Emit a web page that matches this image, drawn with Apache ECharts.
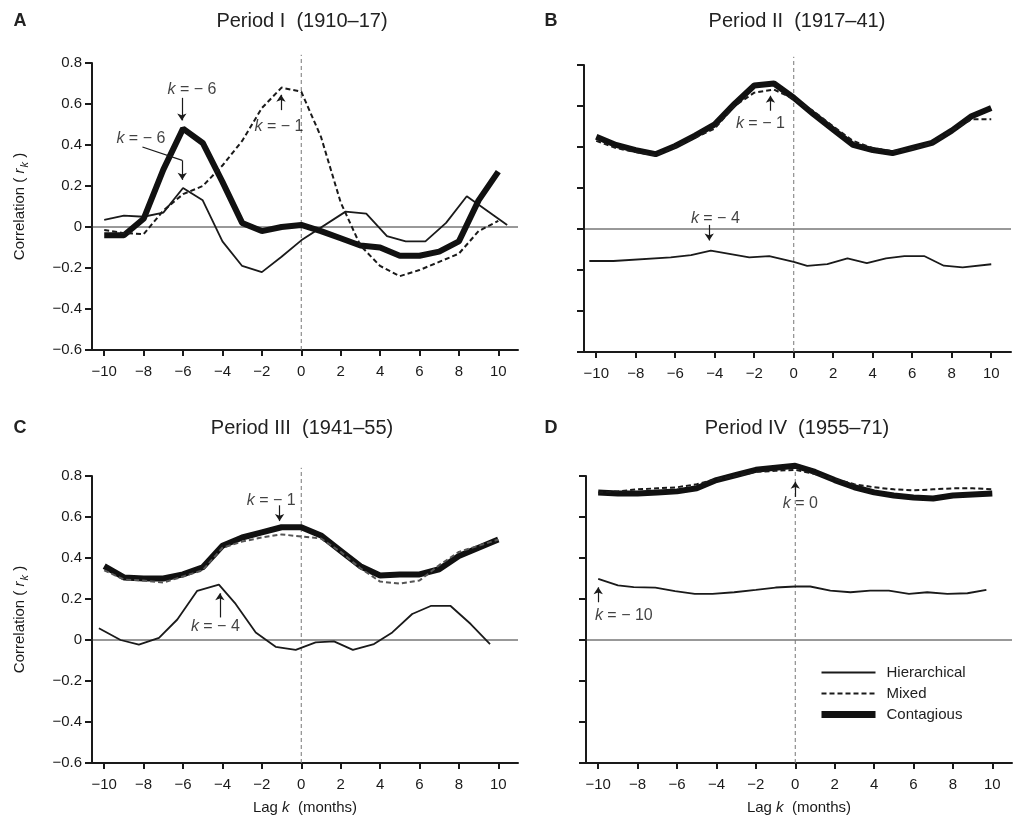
<!doctype html>
<html>
<head>
<meta charset="UTF-8">
<title>Lag correlations</title>
<script src="https://cdn.jsdelivr.net/npm/echarts@6/dist/echarts.min.js"></script>
<style>
	html, body { margin: 0; padding: 0; background: #fff; }
	#chart { width: 1018px; height: 823px; }
</style>
</head>
<body>
<div id="chart"></div>
<script>
	// axis ticks
	var xTicks = [-10, -8, -6, -4, -2, 0, 2, 4, 6, 8, 10];
	var yTicks = [-0.6, -0.4, -0.2, 0, 0.2, 0.4, 0.6, 0.8];
	var lags = [-10, -9, -8, -7, -6, -5, -4, -3, -2, -1, 0, 1, 2, 3, 4, 5, 6, 7, 8, 9, 10];

	// Period I
	var lagsHierA = [-10, -9, -8, -7, -6, -5, -4, -3, -2, -1, 0, 2.25, 3.3, 4.35, 5.3, 6.3, 7.35, 8.4, 10.45];
	var hierA = [0.035, 0.055, 0.05, 0.07, 0.19, 0.13, -0.07, -0.19, -0.22, -0.145, -0.065, 0.075, 0.065, -0.045, -0.07, -0.07, 0.02, 0.15, 0.01];
	var mixedA = [-0.015, -0.03, -0.035, 0.08, 0.16, 0.2, 0.3, 0.42, 0.58, 0.68, 0.66, 0.44, 0.12, -0.09, -0.19, -0.24, -0.21, -0.17, -0.13, -0.02, 0.03];
	var contA = [-0.04, -0.04, 0.04, 0.28, 0.48, 0.41, 0.22, 0.02, -0.02, 0.0, 0.01, -0.02, -0.055, -0.09, -0.1, -0.14, -0.14, -0.12, -0.07, 0.13, 0.27];
	var noteTextA = ['k = − 6', 'k = − 6', 'k = − 1'];
	var notePosA = [[-5.55, 0.67], [-8.14, 0.43], [-1.13, 0.49]];
	var arrowsA = [[[-6.06, 0.63], [-6.06, 0.52]], [[-6.04, 0.325], [-6.04, 0.23]], [[-1.03, 0.57], [-1.03, 0.645]]];
	var leadersA = [[[-8.06, 0.39], [-6.04, 0.325]]];

	// Period II
	var lagsHierB = [-10.35, -9.13, -6.23, -5.2, -4.2, -2.25, -1.24, 0, 0.68, 1.7, 2.72, 3.7, 4.67, 5.6, 6.6, 7.6, 8.55, 10];
	var hierB = [-0.156, -0.156, -0.138, -0.127, -0.106, -0.138, -0.132, -0.16, -0.18, -0.171, -0.143, -0.167, -0.143, -0.132, -0.132, -0.179, -0.187, -0.172];
	var mixedB = [0.43, 0.395, 0.375, 0.36, 0.4, 0.445, 0.49, 0.6, 0.665, 0.68, 0.635, 0.575, 0.5, 0.43, 0.395, 0.38, 0.39, 0.42, 0.48, 0.535, 0.535];
	var contB = [0.45, 0.41, 0.385, 0.365, 0.405, 0.455, 0.51, 0.61, 0.7, 0.71, 0.64, 0.56, 0.485, 0.41, 0.385, 0.37, 0.395, 0.42, 0.48, 0.55, 0.59];
	var noteTextB = ['k = − 4', 'k = − 1'];
	var notePosB = [[-3.97, 0.052], [-1.69, 0.515]];
	var arrowsB = [[[-4.28, 0.02], [-4.28, -0.056]], [[-1.18, 0.577], [-1.18, 0.65]]];

	// Period III
	var lagsHierC = [-10.27, -9.17, -8.24, -7.22, -6.29, -5.28, -4.18, -3.33, -2.31, -1.3, -0.28, 0.73, 1.66, 2.62, 3.69, 4.62, 5.63, 6.57, 7.58, 8.6, 9.58];
	var hierC = [0.057, 0.0, -0.023, 0.01, 0.1, 0.24, 0.27, 0.176, 0.037, -0.033, -0.048, -0.012, -0.007, -0.048, -0.02, 0.037, 0.127, 0.166, 0.166, 0.078, -0.02];
	var mixedC = [0.34, 0.295, 0.29, 0.28, 0.31, 0.34, 0.45, 0.48, 0.5, 0.515, 0.505, 0.495, 0.43, 0.35, 0.285, 0.275, 0.29, 0.365, 0.43, 0.46, 0.49];
	var contC = [0.36, 0.305, 0.3, 0.3, 0.32, 0.355, 0.46, 0.5, 0.525, 0.55, 0.55, 0.51, 0.435, 0.36, 0.315, 0.32, 0.32, 0.345, 0.41, 0.45, 0.49];
	var noteTextC = ['k = − 1', 'k = − 4'];
	var notePosC = [[-1.52, 0.68], [-4.36, 0.065]];
	var arrowsC = [[[-1.1, 0.657], [-1.1, 0.58]], [[-4.13, 0.11], [-4.13, 0.228]]];

	// Period IV
	var lagsHierD = [-10, -9, -8.2, -7.1, -6.1, -5.1, -4.2, -3.1, -2, -1, 0, 0.76, 1.78, 2.8, 3.8, 4.75, 5.77, 6.7, 7.72, 8.74, 9.7];
	var hierD = [0.298, 0.266, 0.258, 0.255, 0.238, 0.225, 0.225, 0.233, 0.245, 0.256, 0.261, 0.261, 0.241, 0.233, 0.241, 0.241, 0.225, 0.233, 0.225, 0.228, 0.245];
	var mixedD = [0.72, 0.725, 0.735, 0.74, 0.745, 0.76, 0.785, 0.8, 0.82, 0.825, 0.83, 0.81, 0.785, 0.76, 0.745, 0.735, 0.73, 0.735, 0.74, 0.74, 0.735];
	var contD = [0.72, 0.715, 0.715, 0.72, 0.725, 0.74, 0.78, 0.805, 0.83, 0.84, 0.85, 0.82, 0.78, 0.745, 0.72, 0.705, 0.695, 0.69, 0.705, 0.71, 0.715];
	var noteTextD = ['k = 0', 'k = − 10'];
	var notePosD = [[0.26, 0.665], [-8.7, 0.12]];
	var arrowsD = [[[0, 0.698], [0, 0.772]], [[-10, 0.184], [-10, 0.257]]];

	var titles = ['Period I  (1910–17)', 'Period II  (1917–41)', 'Period III  (1941–55)', 'Period IV  (1955–71)'];
	var letters = ['A', 'B', 'C', 'D'];

	var xMin = -10.62, xMax = 11, yMin = -0.6, yMax = 0.8, refTop = 0.84, zeroLag = 0;
	var ink = '#1a1a1a';
	var font = '"Liberation Sans", Arial, Helvetica, sans-serif';

	var panels = [
		{grid: {left: 92, top: 63, width: 426, height: 287}, cx: 302, ty: 21, lx: 20, hl: lagsHierA, h: hierA, m: mixedA, c: contA, nt: noteTextA, np: notePosA, ar: arrowsA, ld: leadersA, mc: ink, yl: true, xl: false},
		{grid: {left: 584, top: 65, width: 427, height: 287}, cx: 797, ty: 21, lx: 551, hl: lagsHierB, h: hierB, m: mixedB, c: contB, nt: noteTextB, np: notePosB, ar: arrowsB, ld: [], mc: ink, yl: false, xl: false},
		{grid: {left: 92, top: 476, width: 426, height: 287}, cx: 302, ty: 428, lx: 20, hl: lagsHierC, h: hierC, m: mixedC, c: contC, nt: noteTextC, np: notePosC, ar: arrowsC, ld: [], mc: '#555', yl: true, xl: true},
		{grid: {left: 586, top: 476, width: 426, height: 287}, cx: 797, ty: 428, lx: 551, hl: lagsHierD, h: hierD, m: mixedD, c: contD, nt: noteTextD, np: notePosD, ar: arrowsD, ld: [], mc: ink, yl: false, xl: true}
	];

	function pairs(xs, ys) {
		return xs.map(function (x, i) { return [x, ys[i]]; });
	}
	function fmtX(v) {
		return v < 0 ? '−' + (-v) : String(v);
	}
	function fmtY(v) {
		if (Math.abs(v) < 1e-9) return '0';
		return (v < 0 ? '−' : '') + Math.abs(v).toFixed(1);
	}

	var grids = [], xAxes = [], yAxes = [], series = [], graphics = [];

	panels.forEach(function (p, i) {
		grids.push(p.grid);
		xAxes.push({
			gridIndex: i, type: 'value', min: xMin, max: xMax,
			axisLine: {show: true, onZero: false, lineStyle: {color: ink, width: 2}},
			axisTick: {show: true, customValues: xTicks, length: 6, lineStyle: {color: ink, width: 2}},
			axisLabel: {customValues: xTicks, formatter: fmtX, fontSize: 15, color: ink, margin: 14, fontFamily: font},
			splitLine: {show: false},
			name: p.xl ? '{n|Lag}{i| k}{n|  (months)}' : '',
			nameLocation: 'middle', nameGap: 37,
			nameTextStyle: {rich: {
				n: {fontSize: 15, color: ink, fontFamily: font},
				i: {fontSize: 15, color: ink, fontFamily: font, fontStyle: 'italic'}
			}}
		});
		yAxes.push({
			gridIndex: i, type: 'value', min: yMin, max: yMax,
			axisLine: {show: true, onZero: false, lineStyle: {color: ink, width: 2}},
			axisTick: {show: true, customValues: yTicks, length: 7, lineStyle: {color: ink, width: 2}},
			axisLabel: {show: p.yl, customValues: yTicks, formatter: fmtY, fontSize: 15, color: ink, margin: 10, fontFamily: font},
			splitLine: {show: false},
			name: p.yl ? '{n|Correlation ( }{i|r}{s|k}{n| )}' : '',
			nameLocation: 'middle', nameGap: 62, nameRotate: 90,
			nameTextStyle: {rich: {
				n: {fontSize: 15, color: ink, fontFamily: font},
				i: {fontSize: 15, color: ink, fontFamily: font, fontStyle: 'italic'},
				s: {fontSize: 11, color: ink, fontFamily: font, fontStyle: 'italic', padding: [9, 0, 0, 1]}
			}}
		});

		var base = {xAxisIndex: i, yAxisIndex: i, type: 'line', symbol: 'none', silent: true, clip: false, animation: false};

		// reference lines: zero correlation and zero lag
		series.push(Object.assign({}, base, {
			name: 'zero' + i, data: [[xMin, 0], [xMax, 0]],
			lineStyle: {color: '#333', width: 1}, z: 1
		}));
		series.push(Object.assign({}, base, {
			name: 'lag0' + i, data: [[zeroLag, yMin], [zeroLag, refTop]],
			lineStyle: {color: '#777', width: 1, type: [4, 3]}, z: 1
		}));

		series.push(Object.assign({}, base, {
			name: 'Hierarchical', data: pairs(p.hl, p.h),
			itemStyle: {color: ink},
			lineStyle: {color: ink, width: 1.8}, z: 2
		}));
		series.push(Object.assign({}, base, {
			name: 'Contagious', data: pairs(lags, p.c),
			itemStyle: {color: '#111'},
			lineStyle: {color: '#111', width: 6}, z: 3
		}));
		series.push(Object.assign({}, base, {
			name: 'Mixed', data: pairs(lags, p.m),
			itemStyle: {color: p.mc},
			lineStyle: {color: p.mc, width: 2, type: [5, 3]}, z: 4
		}));

		// k annotations with arrows
		var arrowData = p.ar.map(function (a) {
			return [{coord: a[0]}, {coord: a[1]}];
		}).concat(p.ld.map(function (a) {
			return [{coord: a[0], symbol: 'none'}, {coord: a[1], symbol: 'none'}];
		}));
		series.push({
			type: 'scatter', xAxisIndex: i, yAxisIndex: i, silent: true, animation: false, z: 5,
			symbolSize: 1, itemStyle: {color: 'transparent'},
			data: p.np.map(function (pos, j) { return {value: pos, name: p.nt[j]}; }),
			label: {
				show: true, position: 'inside', color: '#111', textBorderWidth: 0,
				formatter: function (prm) { return '{i|k}{n|' + prm.name.slice(1) + '}'; },
				rich: {
					i: {fontSize: 16, color: '#111', fontFamily: font, fontStyle: 'italic'},
					n: {fontSize: 16, color: '#111', fontFamily: font}
				}
			},
			markLine: {
				silent: true, animation: false,
				symbol: ['none', 'arrow'], symbolSize: 7,
				label: {show: false},
				lineStyle: {color: ink, width: 1.2, type: 'solid'},
				data: arrowData
			}
		});

		graphics.push({
			type: 'text', x: p.cx, y: p.ty,
			style: {text: titles[i], fontSize: 20, fontFamily: font, fill: '#222', align: 'center', verticalAlign: 'middle'}
		});
		graphics.push({
			type: 'text', x: p.lx, y: p.ty,
			style: {text: letters[i], fontSize: 18, fontWeight: 'bold', fontFamily: font, fill: '#222', align: 'center', verticalAlign: 'middle'}
		});
	});

	var chart = echarts.init(document.getElementById('chart'));
	chart.setOption({
		backgroundColor: '#fff',
		animation: false,
		textStyle: {fontFamily: font},
		grid: grids,
		xAxis: xAxes,
		yAxis: yAxes,
		legend: {
			data: [
				{name: 'Hierarchical', lineStyle: {width: 2}},
				{name: 'Mixed', lineStyle: {width: 2}},
				{name: 'Contagious', lineStyle: {width: 7}}
			],
			orient: 'vertical', left: 818, top: 665, padding: 0,
			itemWidth: 54, itemHeight: 14, itemGap: 6,
			itemStyle: {opacity: 0},
			selectedMode: false,
			textStyle: {fontSize: 15, color: '#222', fontFamily: font, padding: [0, 0, 0, 6]}
		},
		graphic: graphics,
		series: series
	});
</script>
</body>
</html>
